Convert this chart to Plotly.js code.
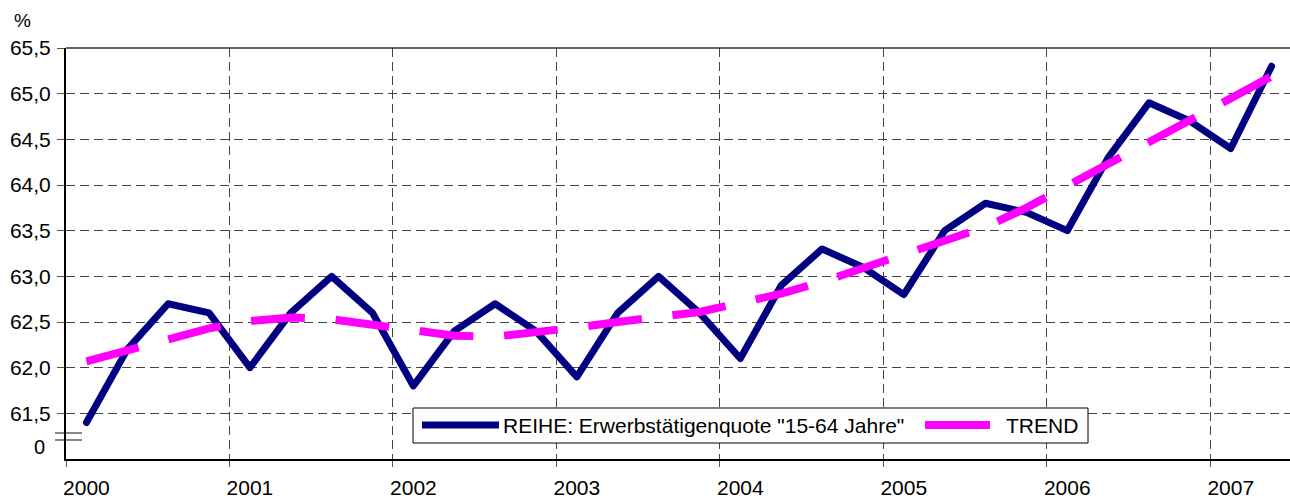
<!DOCTYPE html>
<html>
<head>
<meta charset="utf-8">
<script src="https://cdn.plot.ly/plotly-3.0.1.min.js"></script>
<style>
  html, body { margin: 0; padding: 0; background: #fff; }
  #chart { width: 1290px; height: 500px; }
  .scatterlayer .trace:first-child path.js-line { stroke-linejoin: round; stroke-linecap: round; }
</style>
</head>
<body>
<div id="chart"></div>
<script>
// Quarterly categories 2000 Q1 .. 2007 Q2
const quarters = [
  "2000 Q1","2000 Q2","2000 Q3","2000 Q4",
  "2001 Q1","2001 Q2","2001 Q3","2001 Q4",
  "2002 Q1","2002 Q2","2002 Q3","2002 Q4",
  "2003 Q1","2003 Q2","2003 Q3","2003 Q4",
  "2004 Q1","2004 Q2","2004 Q3","2004 Q4",
  "2005 Q1","2005 Q2","2005 Q3","2005 Q4",
  "2006 Q1","2006 Q2","2006 Q3","2006 Q4",
  "2007 Q1","2007 Q2"
];
// Series: Erwerbstätigenquote 15-64 Jahre (%)
const reihe = [
  61.4, 62.2, 62.7, 62.6,
  62.0, 62.6, 63.0, 62.6,
  61.8, 62.4, 62.7, 62.4,
  61.9, 62.6, 63.0, 62.6,
  62.1, 62.9, 63.3, 63.1,
  62.8, 63.5, 63.8, 63.7,
  63.5, 64.3, 64.9, 64.7,
  64.4, 65.3
];
// Trend
const trend = [
  62.07, 62.19, 62.30, 62.43,
  62.51, 62.55, 62.53, 62.47,
  62.41, 62.35, 62.34, 62.38,
  62.44, 62.50, 62.56, 62.61,
  62.71, 62.81, 62.94, 63.09,
  63.24, 63.39, 63.54, 63.75,
  63.99, 64.22, 64.47, 64.70,
  64.95, 65.19
];
const yearLabels = ["2000","2001","2002","2003","2004","2005","2006","2007"];
const yTickVals = [61.5, 62.0, 62.5, 63.0, 63.5, 64.0, 64.5, 65.0, 65.5];
const seriesName = 'REIHE: Erwerbstätigenquote "15-64 Jahre"';
const trendName = 'TREND';

const idx = quarters.map((q, i) => i);
const yearPos = yearLabels.map((y, k) => quarters.indexOf(y + " Q1"));
const yearBounds = yearLabels.map((y, k) => yearPos[k] - 0.5);
const yTickText = yTickVals.map(v => v.toFixed(1).replace('.', ','));

// pixel helpers for overlay elements (plot area: x 66..1290, y 48..459)
const L = 66, R = 1290, T = 48, B = 459;
const px = x => (x - L) / (R - L);
const py = y => (B - y) / (B - T);

const FONT = 'Liberation Sans, Arial, sans-serif';

const traces = [
  {
    x: idx, y: reihe, text: quarters, name: seriesName, type: 'scatter', mode: 'lines',
    line: { color: '#000080', width: 7 }, showlegend: false, hoverinfo: 'text+y'
  },
  {
    x: idx, y: trend, text: quarters, name: trendName, type: 'scatter', mode: 'lines',
    line: { color: '#FF00FF', width: 8, dash: '54px,30.8px' }, showlegend: false, hoverinfo: 'text+y'
  }
];

const layout = {
  width: 1290, height: 500,
  margin: { l: L, r: 1290 - R, t: T, b: 500 - B, pad: 0 },
  paper_bgcolor: '#ffffff',
  plot_bgcolor: 'rgba(0,0,0,0)',
  font: { family: FONT, size: 21, color: '#000' },
  showlegend: false,
  xaxis: {
    range: [-0.5, 29.45], automargin: false,
    tickmode: 'array', tickvals: yearPos, ticktext: yearLabels,
    ticks: '', showgrid: false, zeroline: false,
    showline: true, linecolor: '#000', linewidth: 1.5,
    tickfont: { family: FONT, size: 21, color: '#000' },
    ticklabelstandoff: 9,
    minor: {
      tickmode: 'array', tickvals: yearBounds,
      ticks: 'outside', ticklen: 6, tickcolor: '#555', tickwidth: 1,
      showgrid: true, gridcolor: '#444', gridwidth: 1, griddash: '9px,5px'
    }
  },
  yaxis: {
    range: [61.0, 65.5], automargin: false,
    tickmode: 'array', tickvals: yTickVals, ticktext: yTickText,
    ticks: 'outside', ticklen: 7, tickcolor: '#555', tickwidth: 1,
    showgrid: true, gridcolor: '#444', gridwidth: 1, griddash: '9px,5px',
    zeroline: false, showline: true, linecolor: '#000', linewidth: 2,
    tickfont: { family: FONT, size: 21, color: '#000' },
    ticklabelstandoff: 2
  },
  shapes: [
    // solid top border
    { type: 'line', xref: 'paper', yref: 'paper', x0: 0, x1: 1, y0: 1, y1: 1,
      line: { color: '#333', width: 1.5 }, layer: 'above' },
    // axis break marks
    { type: 'line', xref: 'paper', yref: 'paper', x0: px(55), x1: px(82), y0: py(433), y1: py(433),
      line: { color: '#888', width: 2 }, layer: 'below' },
    { type: 'line', xref: 'paper', yref: 'paper', x0: px(55), x1: px(82), y0: py(440), y1: py(440),
      line: { color: '#888', width: 2 }, layer: 'below' },
    // legend box
    { type: 'rect', xref: 'paper', yref: 'paper', x0: px(413), x1: px(1088), y0: py(443), y1: py(408),
      line: { color: '#000', width: 1 }, fillcolor: '#ffffff', layer: 'above' },
    { type: 'line', xref: 'paper', yref: 'paper', x0: px(422), x1: px(499), y0: py(425), y1: py(425),
      line: { color: '#000080', width: 7 }, layer: 'above' },
    { type: 'line', xref: 'paper', yref: 'paper', x0: px(925), x1: px(990), y0: py(425), y1: py(425),
      line: { color: '#FF00FF', width: 8 }, layer: 'above' }
  ],
  annotations: [
    { text: '%', xref: 'paper', yref: 'paper', x: px(22), y: py(20), xanchor: 'center', yanchor: 'middle',
      showarrow: false, font: { family: FONT, size: 19, color: '#000' } },
    { text: '0', xref: 'paper', yref: 'paper', x: px(39), y: py(447), xanchor: 'center', yanchor: 'middle',
      showarrow: false, font: { family: FONT, size: 20, color: '#000' } },
    { text: seriesName, xref: 'paper', yref: 'paper', x: px(501), y: py(425), xanchor: 'left', yanchor: 'middle',
      showarrow: false, font: { family: FONT, size: 21, color: '#000' } },
    { text: trendName, xref: 'paper', yref: 'paper', x: px(1004), y: py(425), xanchor: 'left', yanchor: 'middle',
      showarrow: false, font: { family: FONT, size: 21, color: '#000' } }
  ]
};

Plotly.newPlot('chart', traces, layout, { displayModeBar: false, staticPlot: true });
</script>
</body>
</html>
